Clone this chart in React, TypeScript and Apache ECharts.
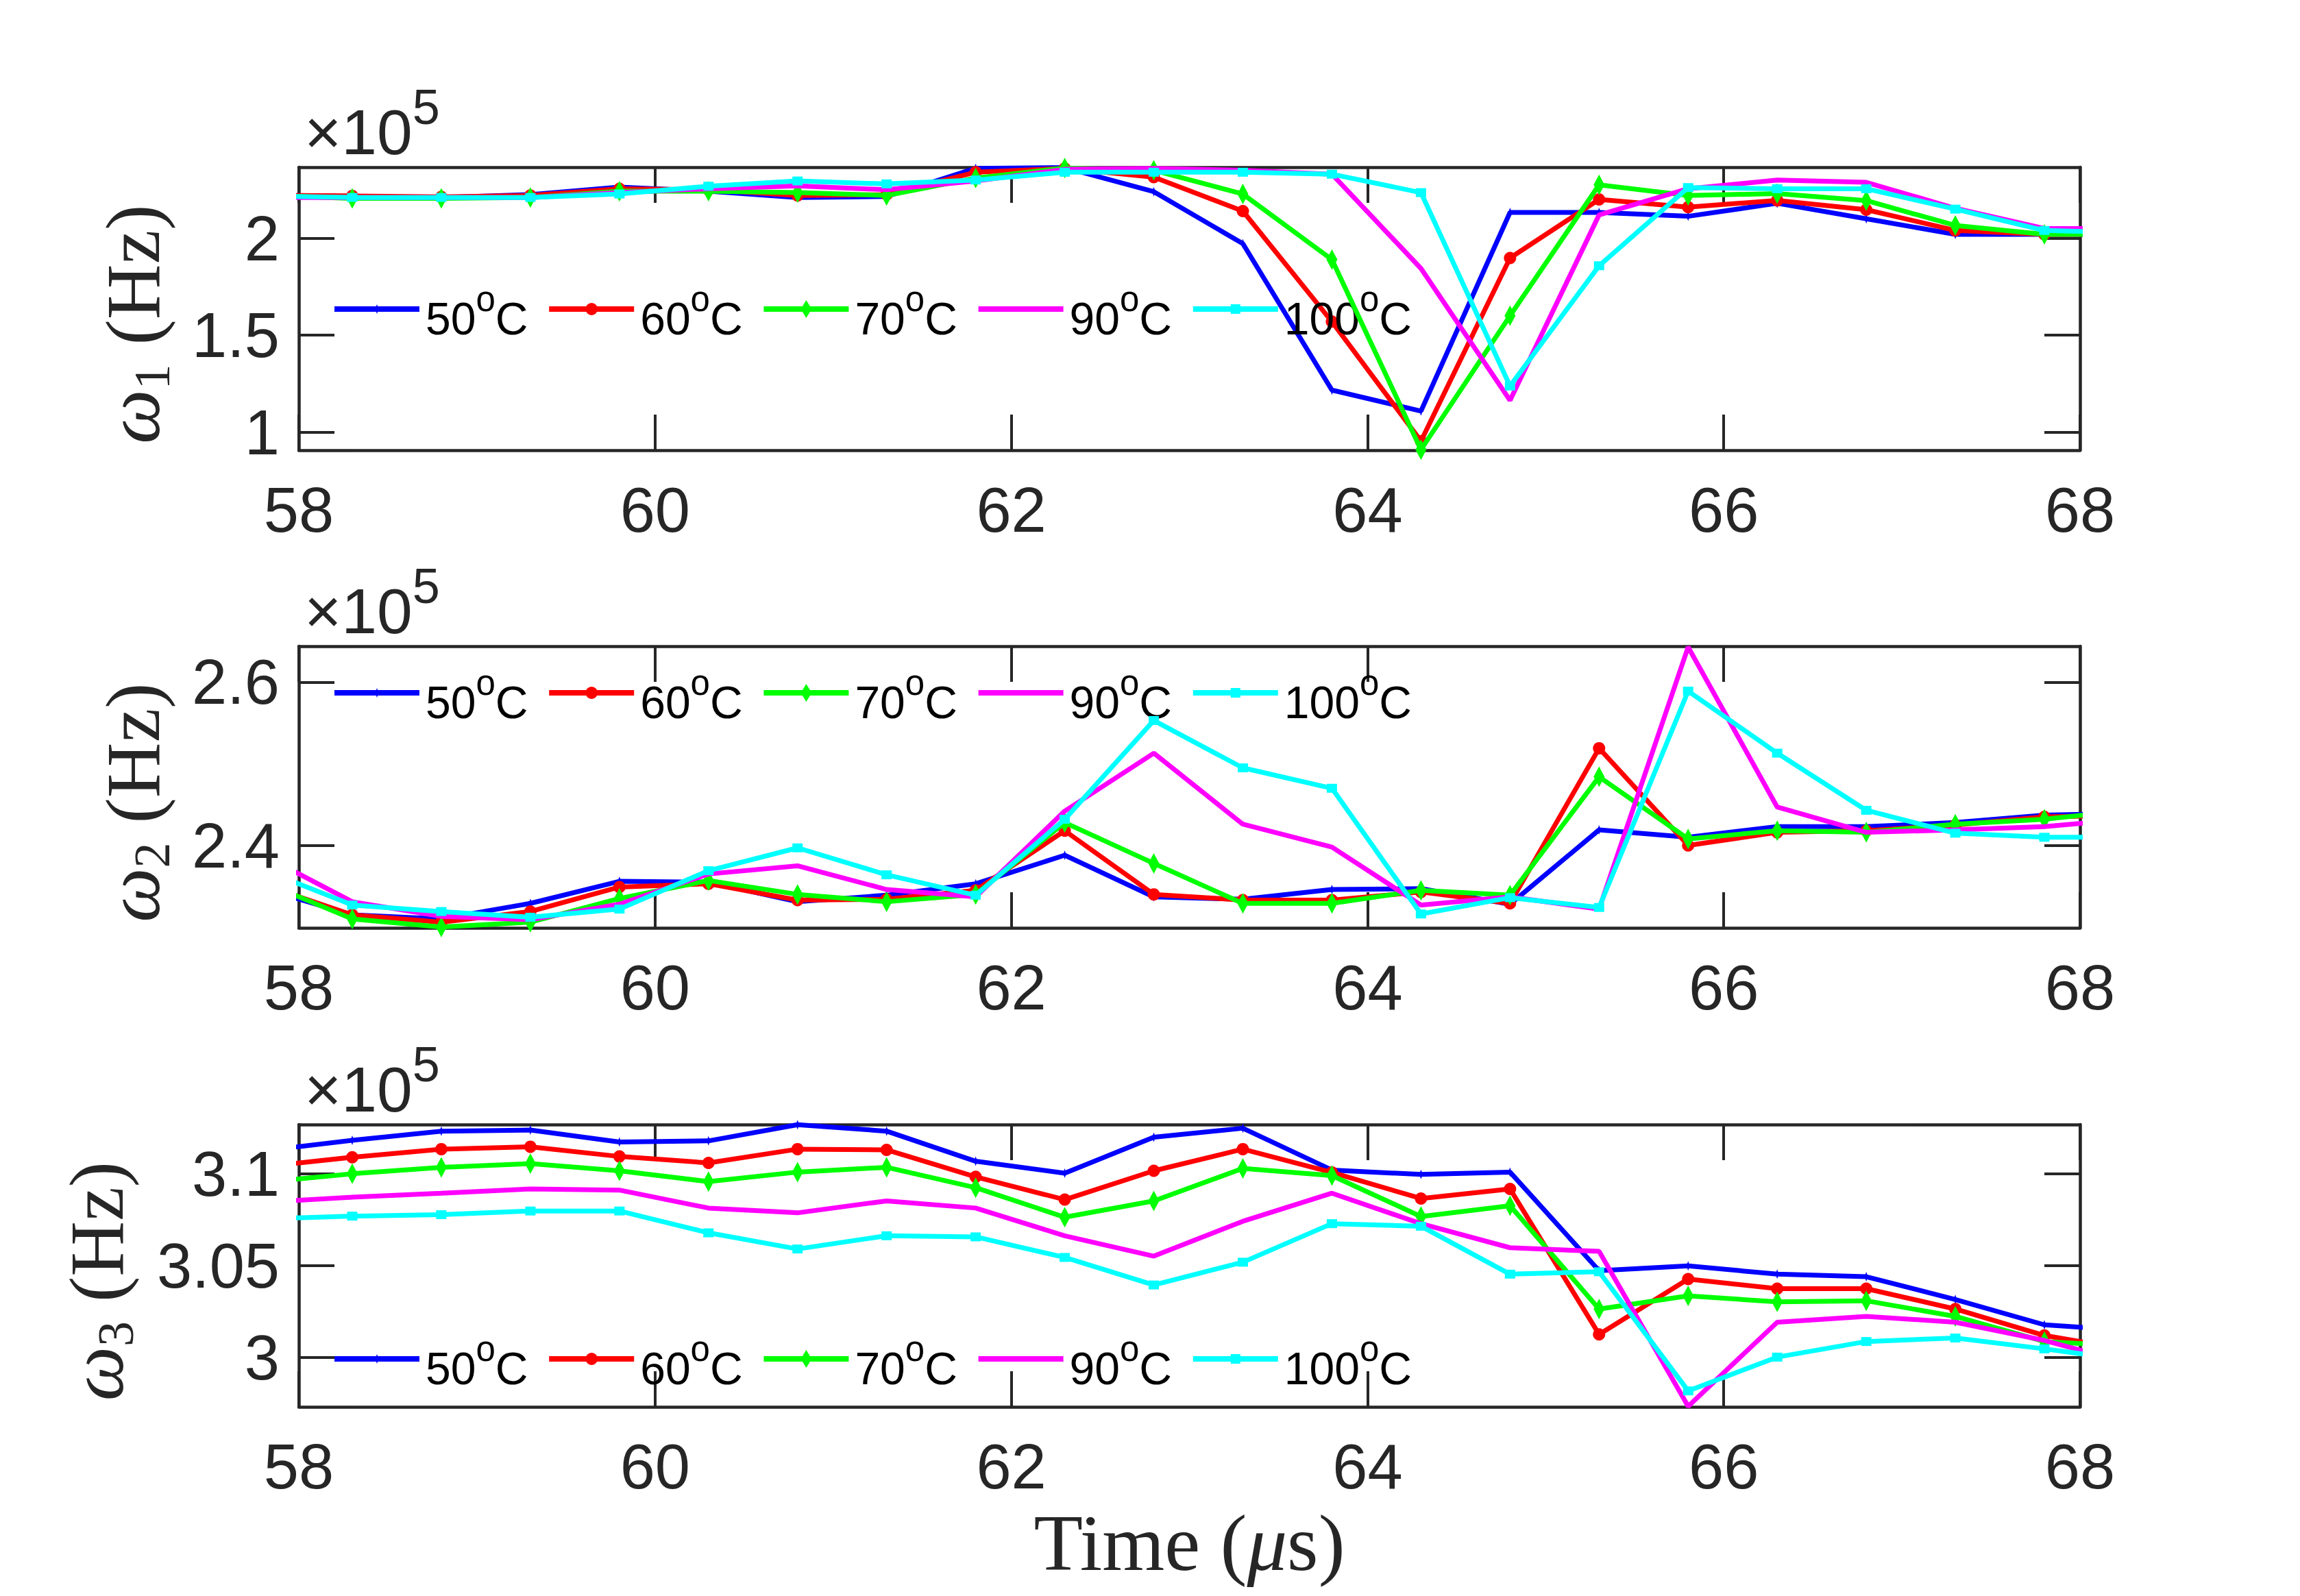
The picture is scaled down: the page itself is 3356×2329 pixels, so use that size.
import React, { useEffect, useRef } from 'react';
import * as echarts from 'echarts';

// ---------------- data (frequencies in units of 1e5 Hz) ----------------
const TIME_US = [57.8, 58.3, 58.8, 59.3, 59.8, 60.3, 60.8, 61.3, 61.8, 62.3, 62.8, 63.3, 63.8, 64.3, 64.8, 65.3, 65.8, 66.3, 66.8, 67.3, 67.8, 68.3];
const TEMPS = ['50°C', '60°C', '70°C', '90°C', '100°C'];

const W1_50 = [2.223, 2.215, 2.21, 2.225, 2.264, 2.242, 2.21, 2.215, 2.36, 2.364, 2.24, 1.972, 1.217, 1.109, 2.133, 2.133, 2.113, 2.18, 2.10, 2.02, 2.02, 2.02];
const W1_60 = [2.221, 2.218, 2.213, 2.22, 2.255, 2.25, 2.22, 2.225, 2.34, 2.36, 2.315, 2.14, 1.57, 0.954, 1.898, 2.20, 2.16, 2.195, 2.147, 2.04, 2.02, 2.02];
const W1_70 = [2.222, 2.205, 2.205, 2.21, 2.242, 2.242, 2.235, 2.22, 2.31, 2.362, 2.35, 2.228, 1.89, 0.91, 1.60, 2.275, 2.22, 2.23, 2.194, 2.066, 2.02, 2.02];
const W1_90 = [2.21, 2.21, 2.21, 2.21, 2.235, 2.255, 2.27, 2.25, 2.295, 2.355, 2.36, 2.35, 2.33, 1.844, 1.164, 2.12, 2.255, 2.30, 2.288, 2.154, 2.05, 2.05];
const W1_100 = [2.218, 2.21, 2.21, 2.21, 2.228, 2.268, 2.295, 2.28, 2.30, 2.34, 2.34, 2.34, 2.33, 2.235, 1.238, 1.858, 2.261, 2.255, 2.255, 2.15, 2.04, 2.028];

const W2_50 = [2.347, 2.315, 2.310, 2.329, 2.356, 2.355, 2.331, 2.339, 2.353, 2.388, 2.337, 2.334, 2.346, 2.347, 2.328, 2.419, 2.410, 2.423, 2.423, 2.428, 2.437, 2.4395];
const W2_60 = [2.352, 2.315, 2.306, 2.319, 2.349, 2.353, 2.333, 2.334, 2.345, 2.418, 2.340, 2.333, 2.333, 2.343, 2.329, 2.519, 2.400, 2.416, 2.418, 2.425, 2.435, 2.437];
const W2_70 = [2.355, 2.310, 2.300, 2.306, 2.335, 2.357, 2.340, 2.331, 2.340, 2.428, 2.378, 2.329, 2.329, 2.345, 2.339, 2.484, 2.408, 2.418, 2.416, 2.426, 2.432, 2.444];
const W2_90 = [2.388, 2.331, 2.313, 2.309, 2.328, 2.365, 2.375, 2.346, 2.337, 2.442, 2.513, 2.426, 2.398, 2.327, 2.337, 2.322, 2.643, 2.447, 2.416, 2.419, 2.423, 2.433];
const W2_100 = [2.370, 2.327, 2.319, 2.312, 2.322, 2.369, 2.397, 2.364, 2.339, 2.432, 2.553, 2.495, 2.470, 2.316, 2.336, 2.324, 2.589, 2.513, 2.443, 2.415, 2.410, 2.410];

const W3_50 = [3.1124, 3.1182, 3.1232, 3.1238, 3.1173, 3.1179, 3.1267, 3.1232, 3.1068, 3.1003, 3.1199, 3.1248, 3.1020, 3.0996, 3.1009, 3.0472, 3.0498, 3.0453, 3.0439, 3.0315, 3.0177, 3.0145];
const W3_60 = [3.1038, 3.1090, 3.1134, 3.1147, 3.1094, 3.1059, 3.1134, 3.1130, 3.0983, 3.0859, 3.1016, 3.1134, 3.1007, 3.0865, 3.0917, 3.0125, 3.0426, 3.0374, 3.0374, 3.0263, 3.0119, 3.0036];
const W3_70 = [3.0953, 3.1000, 3.1035, 3.1055, 3.1016, 3.0957, 3.1009, 3.1035, 3.0924, 3.0763, 3.0852, 3.1029, 3.0990, 3.0767, 3.0826, 3.0263, 3.0335, 3.0302, 3.0308, 3.0223, 3.0086, 3.0058];
const W3_90 = [3.0844, 3.0872, 3.0894, 3.0917, 3.0911, 3.0813, 3.0787, 3.0852, 3.0813, 3.0662, 3.0551, 3.0741, 3.0894, 3.0728, 3.0597, 3.0577, 2.9733, 3.0191, 3.0223, 3.0191, 3.0092, 2.9962];
const W3_100 = [3.0754, 3.0769, 3.0777, 3.0797, 3.0797, 3.0678, 3.0590, 3.0662, 3.0656, 3.0544, 3.0394, 3.0518, 3.0728, 3.0714, 3.0453, 3.0466, 2.9817, 3.0001, 3.0086, 3.0105, 3.0046, 2.9981];

const X_MIN = 58;
const X_MAX = 68;
const X_STEP = 2;
const Y1_TICKS = [1, 1.5, 2];
const Y2_TICKS = [2.4, 2.6];
const Y3_TICKS = [3, 3.05, 3.1];
const Y1_RANGE = [0.907, 2.366];
const Y2_RANGE = [2.299, 2.644];
const Y3_RANGE = [2.973, 3.1268];

// ---------------- styling ----------------
const COLORS = ['#0000ff', '#ff0000', '#00ff00', '#ff00ff', '#00ffff'];
const AXIS_COLOR = '#262626';
const SANS = "'Liberation Sans', Arial, Helvetica, sans-serif";
const SERIF = "'Liberation Serif', 'Times New Roman', serif";

const GRID_LEFT = 436;
const GRID_WIDTH = 2599;
const GRIDS = [
  { top: 244, height: 413 },
  { top: 943, height: 411 },
  { top: 1641, height: 412 },
];
const LEGEND_CENTER_Y = [451, 1011, 1983];
const LEGEND_LEFT0 = 488;
const LEGEND_STEP = 313.2;

const MARKERS: { symbol: string; size: number | number[] }[] = [
  { symbol: 'diamond', size: [5, 14] },
  { symbol: 'circle', size: 18 },
  { symbol: 'diamond', size: [16, 30] },
  { symbol: 'none', size: 0 },
  { symbol: 'rect', size: [15, 13] },
];
const LEGEND_ICONS = [
  'path://M0,3L124,3L124,11L0,11Z M59.5,7L62,0L64.5,7L62,14Z',
  'path://M0,5L124,5L124,13L0,13Z M71,9A9,9,0,1,1,53,9A9,9,0,1,1,71,9Z',
  'path://M0,9L124,9L124,17L0,17Z M54,13L62,0L70,13L62,26Z',
  'path://M0,0L124,0L124,8L0,8Z',
  'path://M0,3L124,3L124,11L0,11Z M55,0L69,0L69,14L55,14Z',
];
const LEGEND_ICON_H = [14, 18, 26, 8, 14];

function buildOption() {
  const panels = [
    { series: [W1_50, W1_60, W1_70, W1_90, W1_100], ticks: Y1_TICKS, range: Y1_RANGE, sub: '1', labelX: 194 },
    { series: [W2_50, W2_60, W2_70, W2_90, W2_100], ticks: Y2_TICKS, range: Y2_RANGE, sub: '2', labelX: 194 },
    { series: [W3_50, W3_60, W3_70, W3_90, W3_100], ticks: Y3_TICKS, range: Y3_RANGE, sub: '3', labelX: 141 },
  ];

  const grid: any[] = [];
  const xAxis: any[] = [];
  const yAxis: any[] = [];
  const series: any[] = [];
  const legend: any[] = [];
  const graphics: any[] = [];

  const axisLine = { show: true, onZero: false, lineStyle: { color: AXIS_COLOR, width: 4.5 } };
  const tickLine = { color: AXIS_COLOR, width: 4 };
  const labelStyle = { fontSize: 92, color: AXIS_COLOR, fontFamily: SANS };

  panels.forEach((p, pi) => {
    const g = GRIDS[pi];
    grid.push({ left: GRID_LEFT, top: g.top, width: GRID_WIDTH, height: g.height, containLabel: false });

    const xBase = {
      gridIndex: pi, type: 'value', min: X_MIN, max: X_MAX, interval: X_STEP,
      axisLine, splitLine: { show: false },
      axisTick: { show: true, inside: true, length: 52, lineStyle: tickLine },
    };
    xAxis.push({ ...xBase, position: 'bottom', axisLabel: { ...labelStyle, margin: 41 } });
    xAxis.push({ ...xBase, position: 'top', axisLabel: { show: false } });

    const yBase = {
      gridIndex: pi, type: 'value', min: p.range[0], max: p.range[1],
      axisLine, splitLine: { show: false },
      axisTick: { show: true, inside: true, length: 52, lineStyle: tickLine, customValues: p.ticks },
    };
    yAxis.push({ ...yBase, position: 'left', axisLabel: { ...labelStyle, margin: 28, customValues: p.ticks } });
    yAxis.push({ ...yBase, position: 'right', axisLabel: { show: false, customValues: p.ticks } });

    p.series.forEach((vals, k) => {
      series.push({
        type: 'line',
        name: TEMPS[k],
        xAxisIndex: pi * 2,
        yAxisIndex: pi * 2,
        data: TIME_US.map((t, j) => [t, vals[j]]),
        symbol: MARKERS[k].symbol,
        symbolSize: MARKERS[k].size,
        showSymbol: MARKERS[k].symbol !== 'none',
        showAllSymbol: true,
        clip: true,
        lineStyle: { color: COLORS[k], width: 7 },
        itemStyle: { color: COLORS[k], borderWidth: 0 },
        emphasis: { disabled: true },
        silent: true,
        z: 2 + k,
      });

      legend.push({
        left: LEGEND_LEFT0 + k * LEGEND_STEP,
        top: LEGEND_CENTER_Y[pi] - 67.5,
        padding: 0,
        orient: 'horizontal',
        selectedMode: false,
        itemWidth: 124,
        itemHeight: LEGEND_ICON_H[k],
        symbolKeepAspect: false,
        data: [{ name: TEMPS[k], icon: LEGEND_ICONS[k] }],
        itemStyle: { borderWidth: 0 },
        formatter: (name: string) => {
          const parts = name.split('°');
          return `{n|${parts[0]}}{s|o}{n|${parts[1]}}`;
        },
        textStyle: {
          color: '#000',
          fontFamily: SANS,
          fontSize: 66,
          lineHeight: 108,
          padding: [27, 0, 0, 4],
          rich: {
            n: { fontSize: 66, lineHeight: 108, fontFamily: SANS, color: '#000' },
            s: { fontSize: 51, lineHeight: 50, verticalAlign: 'top', fontFamily: SANS, color: '#000' },
          },
        },
      });
    });

    // exponent label above the axis
    graphics.push({
      type: 'text',
      x: 444,
      y: g.top - 124,
      silent: true,
      style: {
        text: '{m|×10}{s|5}',
        align: 'left',
        verticalAlign: 'top',
        rich: {
          m: { fontSize: 93, lineHeight: 146, fontFamily: SANS, fill: AXIS_COLOR },
          s: { fontSize: 72, lineHeight: 66, verticalAlign: 'top', fontFamily: SANS, fill: AXIS_COLOR },
        },
      },
    });

    // y axis label
    graphics.push({
      type: 'text',
      x: p.labelX,
      y: g.top + g.height / 2 + 22.5,
      rotation: Math.PI / 2,
      silent: true,
      style: {
        text: `{w|ω}{s|${p.sub}}{t| (Hz)}`,
        align: 'center',
        verticalAlign: 'middle',
        rich: {
          w: { fontSize: 112, lineHeight: 130, fontFamily: SERIF, fontStyle: 'italic', fill: AXIS_COLOR },
          s: { fontSize: 74, lineHeight: 72, verticalAlign: 'bottom', fontFamily: SERIF, fill: AXIS_COLOR },
          t: { fontSize: 112, lineHeight: 130, fontFamily: SERIF, fill: AXIS_COLOR },
        },
      },
    });
  });

  graphics.push({
    type: 'text',
    x: GRID_LEFT + GRID_WIDTH / 2,
    y: 2251,
    silent: true,
    style: {
      text: '{t|Time (}{m|μ}{t|s)}',
      align: 'center',
      verticalAlign: 'middle',
      rich: {
        t: { fontSize: 117, lineHeight: 130, fontFamily: SERIF, fill: AXIS_COLOR },
        m: { fontSize: 117, lineHeight: 130, fontFamily: SERIF, fontStyle: 'italic', fill: AXIS_COLOR },
      },
    },
  });

  return {
    animation: false,
    backgroundColor: '#ffffff',
    grid,
    xAxis,
    yAxis,
    series,
    legend,
    graphic: { elements: graphics },
  };
}

export default function App() {
  const ref = useRef<HTMLDivElement>(null);
  useEffect(() => {
    if (!ref.current) return;
    const chart = echarts.init(ref.current, undefined, { renderer: 'svg' });
    chart.setOption(buildOption() as any);
    return () => {
      chart.dispose();
    };
  }, []);
  return (
    <div
      ref={ref}
      style={{ position: 'fixed', left: 0, top: 0, width: 3356, height: 2329, background: '#ffffff' }}
    />
  );
}
